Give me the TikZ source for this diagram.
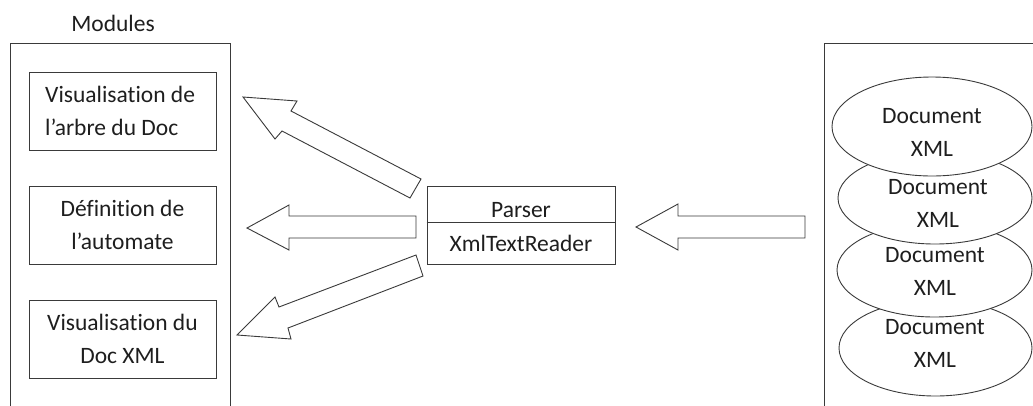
\documentclass[tikz,border=0pt]{standalone}
\usepackage{fontspec}
\setmainfont{Carlito}[Ligatures=NoCommon]
\usetikzlibrary{shapes.geometric}
\definecolor{ink}{HTML}{3A3A3A}
\definecolor{txt}{HTML}{1E1E1E}
\tikzset{
  frame/.style={draw=ink, line width=0.9pt},
  modbox/.style={draw=ink, line width=0.9pt, minimum width=187pt, minimum height=78pt, inner sep=0pt},
  lbl/.style={text=txt, font=\fontsize{23.5}{33}\selectfont, inner sep=0pt, align=center},
  doc/.style={ellipse, draw=ink, fill=white, line width=0.9pt, inner sep=0pt},
  fat/.style={draw=ink, fill=white, line width=0.9pt, line join=miter},
}
\begin{document}
\begin{tikzpicture}[x=1pt,y=-1pt]
\useasboundingbox (0,0) rectangle (1033,405);

% module frame (open at the bottom)
\draw[frame] (10,410) -- (10,43) -- (230,43) -- (230,410);
\node[lbl] (modules) at (113,23) {Modules};

% modules
\node[modbox] (m1) at (122.5,111) {};
\node[lbl, align=left, anchor=west] (m1t) at (45,111) {Visualisation de\\l’arbre du Doc};
\node[modbox] (m2) at (122.5,225) {};
\node[lbl] (m2t) at (m2.center) {Définition de\\l’automate};
\node[modbox] (m3) at (122.5,339) {};
\node[lbl] (m3t) at (m3.center) {Visualisation du\\Doc XML};

% parser
\node[modbox, minimum width=188pt] (parser) at (521,225) {};
\draw[ink, line width=0.9pt] (parser.west |- 0,222) -- (parser.east |- 0,222);
\node[lbl] (pt) at (521,210) {Parser};
\node[lbl] (xt) at (521,243) {XmlTextReader};

% document frame (open at the bottom and on the right)
\draw[frame] (824,410) -- (824,43) -- (1040,43);

% stacked documents, the lowest drawn first
\node[doc, minimum width=193pt, minimum height=96pt] (e4) at (935.5,348) {};
\node[doc, minimum width=195pt, minimum height=94pt] (e3) at (934.5,270) {};
\node[doc, minimum width=194pt, minimum height=92pt] (e2) at (935,198) {};
\node[doc, minimum width=200pt, minimum height=99pt] (e1) at (932,126.5) {};
% their labels, set above every outline
\node[lbl] (e4t) at (935,343) {Document\\XML};
\node[lbl] (e3t) at (935,271) {Document\\XML};
\node[lbl] (e2t) at (938,203.5) {Document\\XML};
\node[lbl] (e1t) at (932,132.5) {Document\\XML};

% block arrows
\draw[fat] (805,216) -- (678,216) -- (678,204) -- (636,227) -- (678,250) -- (678,238) -- (805,238) -- cycle;
\draw[fat] (416,216) -- (289,216) -- (289,205) -- (247,228) -- (289,250) -- (289,238) -- (416,238) -- cycle;
\draw[fat] (421,179) -- (291,111) -- (297,101) -- (243,97) -- (275,139) -- (282,131) -- (410,198) -- cycle;
\draw[fat] (416,255) -- (279,307) -- (275,297) -- (237,335) -- (291,339) -- (288,328) -- (423,276) -- cycle;
\end{tikzpicture}
\end{document}
